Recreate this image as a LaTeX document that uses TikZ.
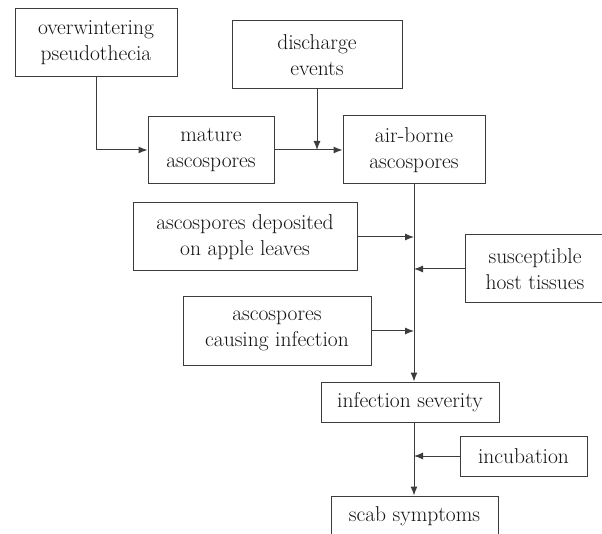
\documentclass[tikz,border=0pt]{standalone}
\usetikzlibrary{arrows.meta,positioning}
\definecolor{scabline}{RGB}{60,60,60}
\definecolor{scabtext}{RGB}{20,18,18}
\tikzset{
  sbox/.style={rectangle, draw=scabline, line width=1pt, fill=white,
               align=center, inner sep=0pt, text=scabtext,
               font=\rmfamily\fontsize{21.5}{26}\selectfont},
  sflow/.style={-{Latex[length=9pt,width=7pt]}, line width=1pt, scabline},
}

\begin{document}
\begin{tikzpicture}[x=1pt,y=-1pt]
  \useasboundingbox (0,0) rectangle (602,534);
  \clip (0,0) rectangle (602,534);
  % boxes
  \node[sbox, minimum width=162pt, minimum height=68pt] (winter) at (96,43)    {overwintering\\pseudothecia};
  \node[sbox, minimum width=170pt, minimum height=68pt] (disch)  at (317,55)   {discharge\\events};
  \node[sbox, minimum width=126pt, minimum height=67pt] (mature) at (211,150)  {mature\\ascospores};
  \node[sbox, minimum width=142pt, minimum height=68pt] (air)    at (414,150)  {air-borne\\ascospores};
  \node[sbox, minimum width=224pt, minimum height=68pt] (depo)   at (245,237)  {ascospores deposited\\on apple leaves};
  \node[sbox, minimum width=140pt, minimum height=68pt] (host)   at (535,269)  {susceptible\\host tissues};
  \node[sbox, minimum width=188pt, minimum height=68pt] (cause)  at (277,331)  {ascospores\\causing infection};
  \node[sbox, minimum width=178pt, minimum height=40pt] (sever)  at (410,402)  {infection severity};
  \node[sbox, minimum width=127pt, minimum height=40pt] (incub)  at (523.5,456) {incubation};
  \node[sbox, minimum width=167pt, minimum height=40pt] (scab)   at (414.5,516) {scab symptoms};
  % junctions on the main line
  \coordinate (jdepo)  at (414,237);
  \coordinate (jhost)  at (414,269);
  \coordinate (jcause) at (414,331);
  \coordinate (jincub) at (414,456);
  % connectors
  \draw[sflow] (winter.south) |- (mature.west);
  \draw[sflow] (mature.east) -- (air.west);
  \draw[sflow] (disch.south) -- (disch.south |- mature.east);
  \draw[sflow] (air.south) -- (air.south |- sever.north);
  \draw[sflow] (depo.east) -- (jdepo);
  \draw[sflow] (host.west) -- (jhost);
  \draw[sflow] (cause.east) -- (jcause);
  \draw[sflow] (sever.south -| air.south) -- (air.south |- scab.north);
  \draw[sflow] (incub.west) -- (jincub);
\end{tikzpicture}
\end{document}
